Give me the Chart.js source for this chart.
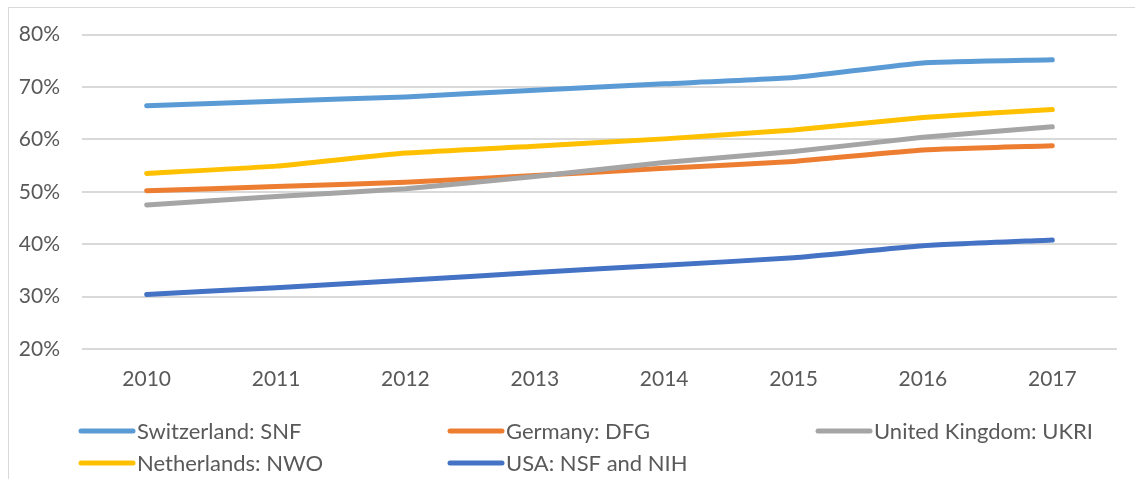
<!DOCTYPE html>
<html>
<head>
<meta charset="utf-8">
<script src="https://cdn.jsdelivr.net/npm/chart.js@4"></script>
<style>
  html, body { margin: 0; padding: 0; background: #fff; }
  #wrap { position: relative; width: 1135px; height: 479px; overflow: hidden; }
  #frame { position: absolute; left: 8px; top: 7px; width: 1200px; height: 600px;
           border-left: 1px solid #d9d9d9; border-top: 1px solid #d9d9d9; }
  #myChart { position: absolute; left: 0; top: 0; }
</style>
</head>
<body>
<div id="wrap">
  <div id="frame"></div>
  <canvas id="myChart" width="1135" height="479"></canvas>
</div>
<script>
const years = ['2010', '2011', '2012', '2013', '2014', '2015', '2016', '2017'];

const seriesNames = [
    'Switzerland: SNF', 'Germany: DFG', 'United Kingdom: UKRI',
    'Netherlands: NWO', 'USA: NSF and NIH'
];

// shares in percent
const snf  = [66.4, 67.3, 68.1, 69.4, 70.6, 71.8, 74.6, 75.2];
const dfg  = [50.2, 51.0, 51.8, 53.1, 54.5, 55.8, 58.0, 58.8];
const ukri = [47.5, 49.1, 50.6, 52.9, 55.6, 57.7, 60.4, 62.4];
const nwo  = [53.5, 54.9, 57.4, 58.7, 60.1, 61.8, 64.2, 65.7];
const usa  = [30.4, 31.7, 33.1, 34.6, 36.0, 37.4, 39.7, 40.8];

const colors = ['#5B9BD5', '#ED7D31', '#A5A5A5', '#FFC000', '#4472C4'];

const FONT = 'Lato, "Liberation Sans", sans-serif';
const TEXT_COLOR = '#595959';

// Excel-like legend: fixed columns, two rows
const gridLegend = {
    id: 'gridLegend',
    afterDraw: (chart) => {
        const { ctx } = chart;
        const colX = [79, 448, 816];
        const rowY = [431, 463];
        ctx.save();
        ctx.font = '22px ' + FONT;
        ctx.textBaseline = 'middle';
        ctx.textAlign = 'left';
        chart.data.datasets.forEach((ds, i) => {
            const x = colX[i % 3];
            const y = rowY[Math.floor(i / 3)];
            ctx.strokeStyle = ds.borderColor;
            ctx.lineWidth = 5;
            ctx.lineCap = 'round';
            ctx.beginPath();
            ctx.moveTo(x + 2, y);
            ctx.lineTo(x + 54, y);
            ctx.stroke();
            ctx.fillStyle = TEXT_COLOR;
            ctx.fillText(ds.label, x + 58, y + 1);
        });
        ctx.restore();
    }
};

const allData = [snf, dfg, ukri, nwo, usa];

const datasets = seriesNames.map((name, i) => ({
    label: name,
    data: allData[i],
    borderColor: colors[i],
    backgroundColor: colors[i],
    borderWidth: 5,
    borderCapStyle: 'round',
    borderJoinStyle: 'round',
    tension: 0.15,
    pointRadius: 0,
    fill: false
}));

// draw order like Excel: first series underneath
datasets.forEach((d, i) => { d.order = datasets.length - i; });

new Chart(document.getElementById('myChart').getContext('2d'), {
    type: 'line',
    data: { labels: years, datasets: datasets },
    plugins: [gridLegend],
    options: {
        responsive: false,
        animation: false,
        layout: { padding: { top: 25, right: 18, bottom: 80, left: 14 } },
        plugins: {
            legend: { display: false },
            tooltip: { enabled: false }
        },
        scales: {
            x: {
                offset: true,
                grid: { display: false },
                border: { display: false },
                afterFit: (s) => { s.height = 50; },
                ticks: {
                    color: TEXT_COLOR,
                    font: { family: FONT, size: 21 },
                    padding: 10,
                    maxRotation: 0
                }
            },
            y: {
                min: 20,
                max: 80,
                grid: { color: '#d9d9d9', lineWidth: 2, drawTicks: false },
                border: { display: false },
                afterFit: (s) => { s.width = 68; },
                ticks: {
                    stepSize: 10,
                    color: TEXT_COLOR,
                    font: { family: FONT, size: 21 },
                    padding: 22,
                    callback: (v) => v + '%'
                }
            }
        }
    }
});
</script>
</body>
</html>
